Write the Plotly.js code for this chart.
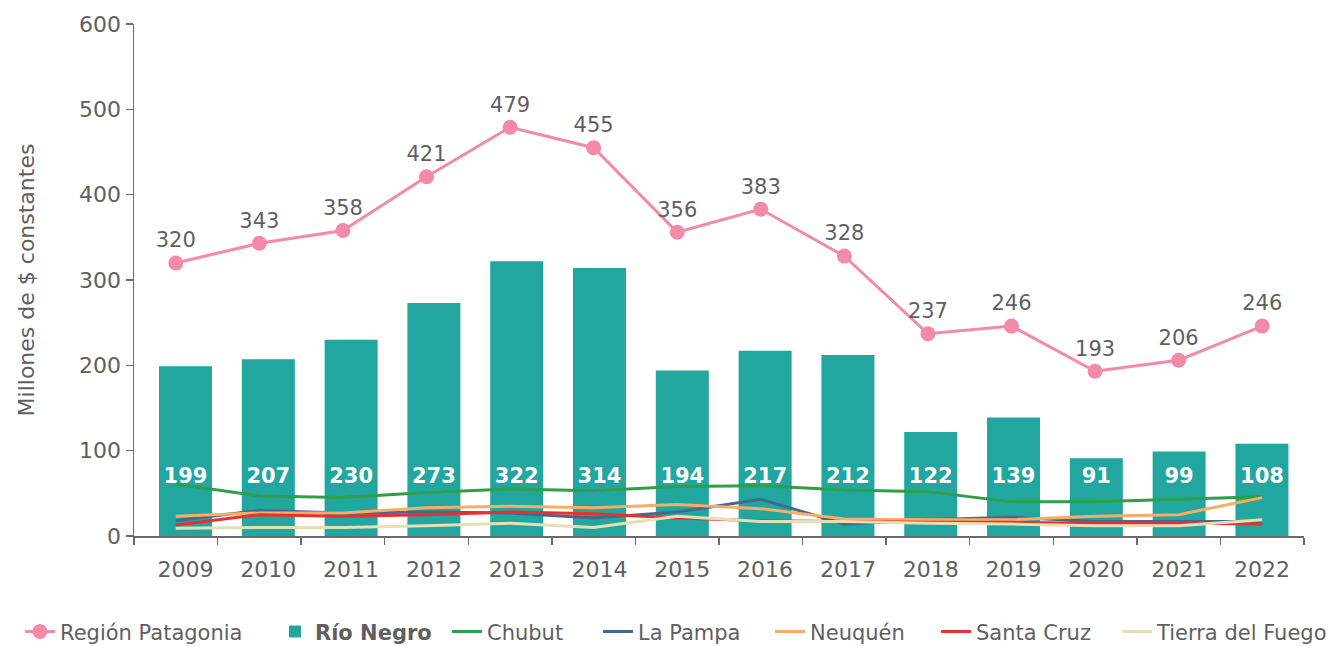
<!DOCTYPE html>
<html>
<head>
<meta charset="utf-8">
<script src="https://cdn.plot.ly/plotly-3.0.1.min.js"></script>
<style>html,body{margin:0;padding:0;background:#fff;}#chart{width:1339px;height:646px;}</style>
</head>
<body>
<div id="chart"></div>
<script>
const years = ['2009','2010','2011','2012','2013','2014','2015','2016','2017','2018','2019','2020','2021','2022'];
const regionPatagonia = [320,343,358,421,479,455,356,383,328,237,246,193,206,246];
const rioNegro = [199,207,230,273,322,314,194,217,212,122,139,91,99,108];
const chubut = [61,47,45,51,55,53,58,59,54,52,40,40,43,46];
const laPampa = [18,30,27,28,27,21,28,43,14,19,22,17,17,17];
const neuquen = [23,27,27,33,35,33,37,32,20,19,19,23,25,45];
const santaCruz = [13,25,23,25,28,26,21,18,17,16,16,15,15,14];
const tierraDelFuego = [9,10,10,12,15,10,23,17,17,15,14,12,12,19];

const FONT = 'DejaVu Sans, sans-serif';
const GRAY = '#5f5f5f';
const barLabelY = 68;
const W = 1339;
// left pixel where each legend entry's text starts in the reference
const legendTextStart = [60, 315, 487, 638, 810, 976, 1157];

const lineSeries = [
  {name:'Chubut', y:chubut, color:'#2E9E48'},
  {name:'La Pampa', y:laPampa, color:'#44688F'},
  {name:'Neuquén', y:neuquen, color:'#F7AD63'},
  {name:'Santa Cruz', y:santaCruz, color:'#E8312F'},
  {name:'Tierra del Fuego', y:tierraDelFuego, color:'#E6DFB6'}
];
const legendIds = ['legend','legend2','legend3','legend4','legend5','legend6','legend7'];

const traces = [];
traces.push({
  type:'bar', name:'<b>Río Negro</b>', x:years, y:rioNegro, xaxis:'x', yaxis:'y',
  marker:{color:'#21A6A0'}, width:0.64, legend:'legend2'
});
traces.push({
  type:'scatter', mode:'text', x:years, y:years.map(()=>barLabelY), xaxis:'x', yaxis:'y',
  text:rioNegro.map(v=>'<b>'+v+'</b>'), textposition:'middle center',
  textfont:{family:FONT, size:21, color:'#ffffff'}, showlegend:false, hoverinfo:'skip'
});
lineSeries.forEach((s,i)=>{
  traces.push({type:'scatter', mode:'lines', name:s.name, x:years, y:s.y, xaxis:'x2', yaxis:'y',
    line:{color:s.color, width:3}, legend:legendIds[i+2]});
});
traces.push({
  type:'scatter', mode:'lines+markers+text', name:'Región Patagonia',
  x:years, y:regionPatagonia, xaxis:'x2', yaxis:'y',
  line:{color:'#F28AA8', width:3}, marker:{color:'#F28AA8', size:15},
  text:regionPatagonia.map(String), textposition:'top center',
  textfont:{family:FONT, size:21, color:GRAY}, cliponaxis:false, legend:'legend'
});

const layout = {
  width:W, height:646,
  margin:{l:134, r:35, t:24, b:110},
  paper_bgcolor:'#fff', plot_bgcolor:'#fff',
  font:{family:FONT, color:GRAY},
  showlegend:true,
  xaxis:{type:'category', range:[-0.622, 13.508], showline:false, ticks:'', showgrid:false,
    tickfont:{family:FONT, size:22, color:GRAY}, ticklabelstandoff:18, zeroline:false},
  xaxis2:{type:'category', overlaying:'x', side:'bottom', range:[-0.5, 13.5], showline:true,
    linecolor:'#6b6b6b', linewidth:1.5, ticks:'outside', tickson:'boundaries', ticklen:7,
    tickcolor:'#6b6b6b', tickwidth:1.5, showticklabels:false, showgrid:false, zeroline:false},
  yaxis:{range:[0,600], tickvals:[0,100,200,300,400,500,600], showline:true, linecolor:'#6b6b6b',
    linewidth:1.5, ticks:'outside', ticklen:7, tickcolor:'#6b6b6b', tickwidth:1.5, showgrid:false,
    zeroline:false, tickfont:{family:FONT, size:22, color:GRAY},
    title:{text:'Millones de $ constantes', font:{family:FONT, size:22, color:GRAY}, standoff:38}},
  bargap:0.36
};
legendIds.forEach((id,i)=>{
  layout[id] = {orientation:'h', xref:'container', yref:'container',
    x:(legendTextStart[i]-40)/W, xanchor:'left', y:0.022, yanchor:'middle',
    font:{family:FONT, size:21, color:GRAY}, itemwidth:30, bgcolor:'rgba(0,0,0,0)', borderwidth:0};
});

Plotly.newPlot('chart', traces, layout, {displayModeBar:false, staticPlot:true});
</script>
</body>
</html>
